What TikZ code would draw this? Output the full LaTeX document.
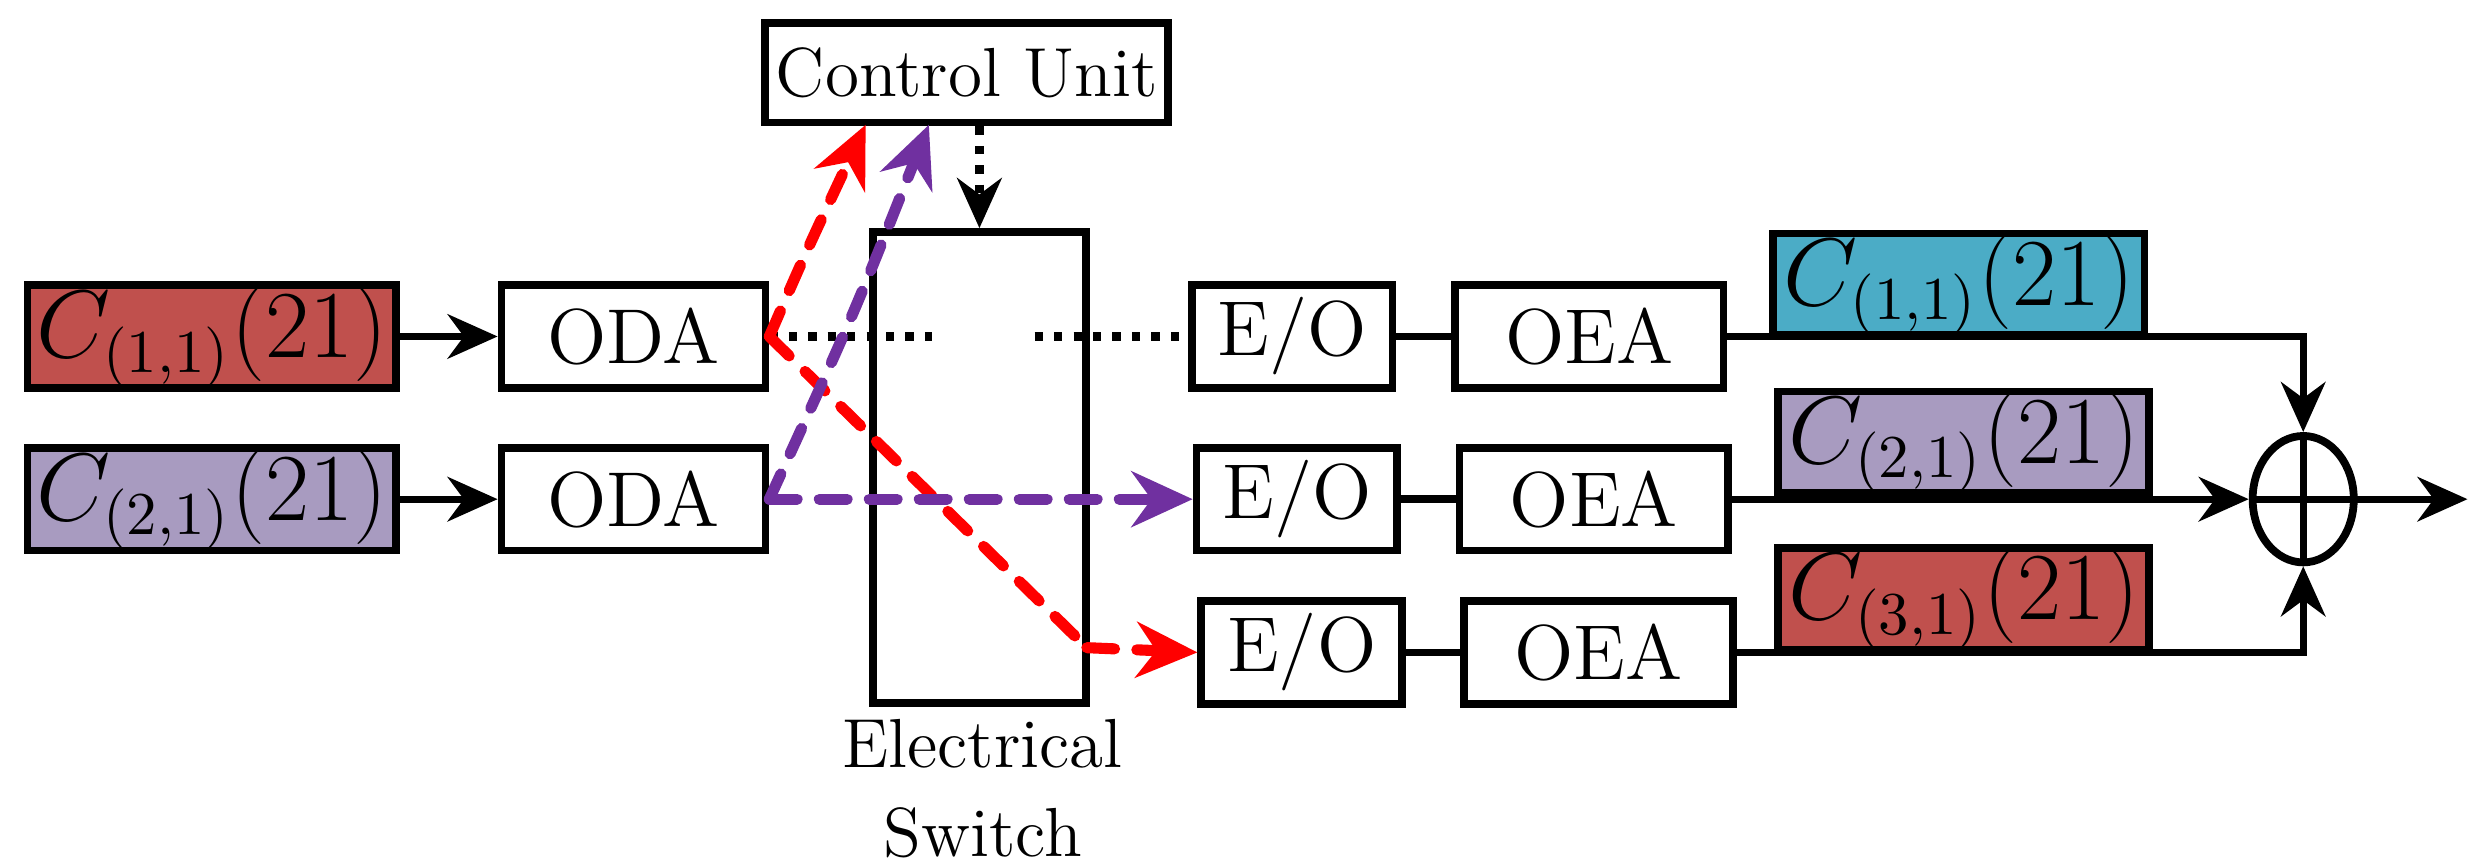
\documentclass[tikz,border=0pt]{standalone}
\usepackage{amsmath}
\usepackage{tikz}
\usetikzlibrary{arrows.meta,positioning,shapes.geometric}
\definecolor{brick}{RGB}{192,80,77}
\definecolor{lilac}{RGB}{168,155,192}
\definecolor{teal}{RGB}{75,172,198}
\definecolor{vio}{RGB}{112,48,160}
\tikzset{
  blk/.style={draw,line width=1.4pt,minimum height=0.65cm,inner sep=0pt,font=\fontsize{14}{16}\selectfont},
  sig/.style={blk,minimum width=2.33cm,font=\fontsize{16}{18}\selectfont},
  arr/.style={-{Stealth[length=9pt,width=8pt]},line width=1.3pt},
  dsh/.style={line width=2pt,line cap=round,dash pattern=on 5pt off 4pt,-{Stealth[length=11pt,width=10pt]}}
}
\begin{document}
\begin{tikzpicture}[x=0.01cm,y=-0.01cm]
\useasboundingbox (0,0) rectangle (1568,549);
% inputs
\node [sig,fill=brick] (in1) at (134,213) {$C_{(1,1)}(21)$};
\node [sig,fill=lilac] (in2) at (134,316) {$C_{(2,1)}(21)$};
\node [blk,minimum width=1.67cm] (oda1) at (401,213) {ODA};
\node [blk,minimum width=1.67cm] (oda2) at (401,316) {ODA};
\node [blk,minimum width=2.55cm,minimum height=0.63cm,font=\fontsize{12.5}{14}\selectfont] (cu) at (612,46) {Control Unit};
\node [blk,minimum width=1.35cm,minimum height=2.98cm] (sw) at (620,296) {};
\node [align=center,font=\fontsize{12.5}{14}\selectfont,inner sep=0pt] (swl) at (622,499) {Electrical\\[2pt]Switch};
% outputs
\foreach \i/\y/\dx in {1/213/0,2/316/3,3/413/6}{
  \node [blk,minimum width=1.27cm] (eo\i) at (818+\dx,\y) {E/O};
  \node [blk,minimum width=1.7cm] (oea\i) at (1006+\dx,\y) {OEA};
  \draw [line width=1.4pt] (eo\i) -- (oea\i);
}
\node [sig,minimum width=2.35cm,minimum height=0.62cm,fill=teal] (out1) at (1240,180) {$C_{(1,1)}(21)$};
\node [sig,minimum width=2.35cm,minimum height=0.64cm,fill=lilac] (out2) at (1243,280) {$C_{(2,1)}(21)$};
\node [sig,minimum width=2.35cm,minimum height=0.62cm,fill=brick] (out3) at (1243,379) {$C_{(3,1)}(21)$};
\node [draw,ellipse,line width=1.4pt,minimum width=0.64cm,minimum height=0.8cm,inner sep=0pt] (sum) at (1458,316) {};
\draw [line width=1.2pt] (sum.north) -- (sum.south) (sum.west) -- (sum.east);
\coordinate (end) at (1562,316);
% connections
\draw [arr] (in1) -- (oda1);
\draw [arr] (in2) -- (oda2);
\draw [arr] (oea1.east) -| (sum.north);
\draw [arr] (oea2) -- (sum.west);
\draw [arr] (oea3.east) -| (sum.south);
\draw [arr] (sum.east) -- (end);
\draw [line width=1.5pt,dotted,-{Stealth[length=9pt,width=8pt]}] (cu.south -| sw.north) -- (sw.north);
\coordinate (g1) at (590,213);
\coordinate (g2) at (655,213);
\draw [line width=1.5pt,dotted] (oda1.east) -- (g1);
\draw [line width=1.5pt,dotted] (g2) -- (eo1.west);
\coordinate (cr) at (548,79);
\coordinate (cv) at (588,79);
\coordinate (bend) at (688,410);
\draw [dsh,red] (oda1.east) .. controls (510,160) .. (cr);
\draw [dsh,red,-] (oda1.east) -- (bend);
\draw [dsh,red] (bend) -- (eo3.west);
\draw [dsh,vio] (oda2.east) .. controls (540,200) .. (cv);
\draw [dsh,vio] (oda2.east) -- (eo2.west);
\end{tikzpicture}
\end{document}
